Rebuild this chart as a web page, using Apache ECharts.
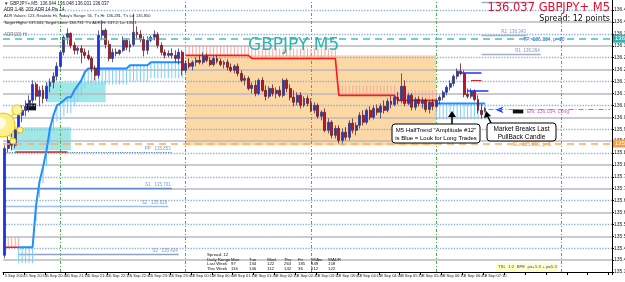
<!DOCTYPE html>
<html><head><meta charset="utf-8">
<script src="https://cdn.jsdelivr.net/npm/echarts@6/dist/echarts.min.js"></script>
<style>html,body{margin:0;padding:0;background:#fff}#c{width:625px;height:282px}</style>
</head><body><div id="c"></div>
<script>
// ---- data ----
const slots = Array.from({length:175},(_,i)=>'b'+i);
const tickLabels = ['5 Sep 2014','5 Sep 20:10','5 Sep 20:40','5 Sep 21:10','5 Sep 21:40','5 Sep 22:10','5 Sep 22:40','5 Sep 23:10','5 Sep 23:40','8 Sep 00:10','8 Sep 00:40','8 Sep 01:10','8 Sep 01:40','8 Sep 02:10','8 Sep 02:40','8 Sep 03:10','8 Sep 03:40','8 Sep 04:10','8 Sep 04:40','8 Sep 05:10','8 Sep 05:40','8 Sep 06:10','8 Sep 06:40','8 Sep 07:10'];
const openP = [135.420,135.869,135.903,135.882,135.953,136.008,136.029,136.046,136.071,136.138,136.088,136.113,136.079,136.130,136.147,136.172,136.214,136.273,136.336,136.352,136.302,136.281,136.289,136.273,136.260,136.247,136.205,136.176,136.344,136.365,136.306,136.247,136.273,136.268,136.281,136.323,136.294,136.306,136.357,136.348,136.327,136.281,136.323,136.336,136.348,136.302,136.273,136.260,136.268,136.260,136.247,136.273,136.197,136.226,136.214,136.231,136.239,136.231,136.256,136.239,136.222,136.247,136.235,136.222,136.231,136.210,136.197,136.214,136.184,136.155,136.163,136.121,136.134,136.100,136.155,136.113,136.088,136.121,136.100,136.113,136.092,136.155,136.121,136.084,136.063,136.092,136.050,136.079,136.058,136.029,136.050,136.004,136.021,135.945,135.979,135.924,135.953,135.903,135.937,135.916,135.975,135.945,135.966,136.008,135.979,136.029,136.000,136.037,136.021,136.046,136.029,136.067,136.054,136.084,136.071,136.130,136.058,136.092,136.042,136.075,136.058,136.071,136.033,136.063,136.046,136.071,136.084,136.105,136.126,136.142,136.172,136.193,136.184,136.096,136.088,136.109,136.075,136.029,136.025];
const highP = [135.882,135.924,135.945,135.966,136.029,136.050,136.071,136.092,136.155,136.147,136.130,136.134,136.147,136.163,136.189,136.231,136.281,136.344,136.373,136.357,136.315,136.298,136.302,136.289,136.281,136.256,136.218,136.365,136.407,136.373,136.323,136.289,136.289,136.285,136.340,136.331,136.323,136.436,136.382,136.365,136.340,136.340,136.344,136.365,136.357,136.315,136.285,136.281,136.289,136.281,136.289,136.281,136.239,136.247,136.239,136.252,136.260,136.273,136.268,136.252,136.256,136.260,136.247,136.239,136.243,136.226,136.222,136.226,136.197,136.176,136.172,136.147,136.155,136.163,136.168,136.134,136.130,136.138,136.126,136.130,136.163,136.163,136.138,136.113,136.105,136.105,136.088,136.092,136.079,136.063,136.058,136.029,136.037,135.995,135.987,135.966,135.966,135.953,135.958,135.987,135.995,135.979,136.021,136.029,136.037,136.046,136.050,136.054,136.058,136.071,136.079,136.088,136.092,136.105,136.184,136.155,136.100,136.100,136.084,136.088,136.084,136.079,136.071,136.075,136.079,136.092,136.113,136.134,136.155,136.180,136.205,136.226,136.197,136.121,136.121,136.117,136.092,136.054,136.042];
const lowP = [135.408,135.853,135.861,135.869,135.932,135.979,136.004,136.021,136.058,136.071,136.046,136.058,136.067,136.105,136.121,136.155,136.205,136.260,136.306,136.289,136.264,136.264,136.226,136.247,136.239,136.189,136.155,136.163,136.323,136.289,136.235,136.231,136.256,136.260,136.273,136.281,136.273,136.298,136.331,136.315,136.256,136.264,136.315,136.323,136.289,136.260,136.247,136.252,136.247,136.231,136.222,136.176,136.184,136.205,136.197,136.214,136.222,136.222,136.231,136.214,136.214,136.226,136.214,136.205,136.197,136.189,136.184,136.172,136.147,136.134,136.113,136.100,136.088,136.092,136.105,136.071,136.079,136.088,136.079,136.084,136.084,136.105,136.071,136.046,136.050,136.037,136.042,136.046,136.021,136.016,135.995,135.987,135.937,135.932,135.911,135.911,135.890,135.882,135.903,135.903,135.932,135.924,135.953,135.966,135.970,135.987,135.991,136.008,135.995,136.016,136.021,136.037,136.046,136.054,136.058,136.046,136.050,136.029,136.029,136.046,136.037,136.021,136.016,136.029,136.037,136.054,136.071,136.092,136.113,136.130,136.159,136.176,136.084,136.079,136.079,136.067,136.016,135.995,136.021];
const closeP = [135.869,135.903,135.882,135.953,136.008,136.029,136.046,136.071,136.138,136.088,136.113,136.079,136.130,136.147,136.172,136.214,136.273,136.336,136.352,136.302,136.281,136.289,136.273,136.260,136.247,136.205,136.176,136.344,136.365,136.306,136.247,136.273,136.268,136.281,136.323,136.294,136.306,136.357,136.348,136.327,136.281,136.323,136.336,136.348,136.302,136.273,136.260,136.268,136.260,136.247,136.273,136.197,136.226,136.214,136.231,136.239,136.231,136.256,136.239,136.222,136.247,136.235,136.222,136.231,136.210,136.197,136.214,136.184,136.155,136.163,136.121,136.134,136.100,136.155,136.113,136.088,136.121,136.100,136.113,136.092,136.155,136.121,136.084,136.063,136.092,136.050,136.079,136.058,136.029,136.050,136.004,136.021,135.945,135.979,135.924,135.953,135.903,135.937,135.916,135.975,135.945,135.966,136.008,135.979,136.029,136.000,136.037,136.021,136.046,136.029,136.067,136.054,136.084,136.071,136.130,136.058,136.092,136.042,136.075,136.058,136.071,136.033,136.063,136.046,136.071,136.084,136.105,136.126,136.142,136.172,136.193,136.184,136.096,136.088,136.109,136.075,136.029,136.012,136.037];
// HalfTrend (Amplitude 12) values: blue = up trend, red = down trend
const _ = null;
const htBlue = [_,_,_,_,135.454,135.454,135.454,135.454,135.454,135.630,135.730,135.790,135.861,135.953,136.008,136.050,136.058,136.071,136.084,136.084,136.113,136.134,136.155,136.189,136.205,136.205,136.205,136.205,136.205,136.205,136.205,136.205,136.205,136.205,136.205,136.205,136.218,136.218,136.218,136.218,136.218,136.218,136.231,136.231,136.231,136.231,136.231,136.231,136.231,136.231,136.231,136.231,
 _,_,_,_,_,_,_,_,_,_,_,_,_,_,_,_,_,_,_,_,_,_,_,_,_,_,_,_,_,_,_,_,_,_,_,_,_,_,_,_,_,_,_,_,_,_,_,_,_,_,_,_,_,_,_,_,_,_,_,_,_,_,_,_,_,_,_,_,_,_,_,_,
 136.058,136.058,136.058,136.058,136.058,136.058,136.058,136.058,136.058,136.058,136.058,136.058,136.058,136.058,136.058];
const htRed = [135.454,135.454,135.454,135.454,135.454,_,_,_,_,_,_,_,_,_,_,_,_,_,_,_,_,_,_,_,_,_,_,_,_,_,_,_,_,_,_,_,_,_,_,_,_,_,_,_,_,_,_,_,_,_,_,_,
 136.260,136.260,136.260,136.260,136.260,136.260,136.260,136.260,136.260,136.260,136.260,136.260,136.260,136.260,136.260,136.260,136.260,136.260,136.260,
 136.247,136.247,136.247,136.247,136.247,136.247,136.247,136.247,136.247,136.247,136.247,136.247,136.247,136.247,136.247,136.247,136.247,136.247,136.247,136.247,136.247,136.247,136.247,136.247,136.247,
 136.092,136.092,136.092,136.092,136.092,136.092,136.092,136.092,136.092,136.092,136.092,136.092,136.092,136.092,136.092,136.092,136.092,
 136.071,136.071,136.071,136.071,136.071,136.071,136.071,136.071,136.071,136.071,136.071,136.071,_,_,_,_,_,_,_,_,_,_,_,_,_,_];
const roundLevels = [135.4,135.5,135.6,135.7,135.8,135.9,136.0,136.1,136.2,136.3,136.4];
const halfLevels = [135.45,135.55,135.65,135.75,135.85,135.95,136.05,136.15,136.25,136.35,136.45];
const separators = [16,52,88,124,160];
const tpPrice = 136.334, slPrice = 135.890, entryPrice = 136.034, lastPrice = 136.037;
const tableHead = ['Daily Range','Mon','Tue','Wed','Thu','Fri','W/Avr','WADR'];
const lastWeek = ['Last Week','97','134','122','263','185','849','158'];
const thisWeek = ['This Week','116','146','112','142','36','612','122'];

// ---- chart ----
const chart = echarts.init(document.getElementById('c'), null, {renderer:'canvas'});
const candles = openP.map((o,i)=>[o, closeP[i], lowP[i], highP[i]]);
const hatch = [];
htBlue.forEach((v,i)=>{ if(v!=null) hatch.push([i,v,0]); });
htRed.forEach((v,i)=>{ if(v!=null) hatch.push([i,v,1]); });

const lvlLines = [];
roundLevels.forEach(v=>lvlLines.push({yAxis:v, lineStyle:{color:'#b9b9c3', width:1.6, type:'solid'}}));
halfLevels.forEach(v=>lvlLines.push({yAxis:v, lineStyle:{color:'#8fb2dd', width:1.4, type:'dotted'}}));
separators.forEach(v=>lvlLines.push({xAxis:v, lineStyle:{color:'#49b04f', width:1, type:[3,2,1,2]}}));
const segs = (a,b,v,color,w,type,label)=>[{coord:[a,v], lineStyle:{color,width:w,type}, label:label?{show:true,position:'insideEndTop',formatter:label,fontSize:4.5,color:'#7f98c4',distance:1}:{show:false}},{coord:[b,v]}];
lvlLines.push(segs(0,48,135.701,'#5d8fcf',1.4,'solid','S1   135.701'));
lvlLines.push(segs(0,47,135.626,'#9dc0ea',1.4,'solid','S2   135.626'));
lvlLines.push(segs(4,50,135.424,'#8ea4c4',1.4,'solid','S3   135.424'));
lvlLines.push(segs(0,48,135.853,'#5f86c0',1.2,'dotted','PP   135.853'));
lvlLines.push(segs(137,152,136.483,'#a8b0c0',1.4,'solid',null));
lvlLines.push(segs(137,150,136.343,'#a8b0c0',1.4,'solid','R2  136.343'));
lvlLines.push(segs(137,154,136.264,'#a8b0c0',1.4,'solid','R1  136.264'));
lvlLines.push(segs(3,18,135.857,'#d02828',1.6,'solid',null));

const option = {
  animation:false,
  backgroundColor:'#ffffff',
  grid:{left:3,right:13,top:0,bottom:10,containLabel:false,outerBoundsMode:'none'},
  xAxis:{type:'category', data:slots, boundaryGap:true,
    axisLine:{lineStyle:{color:'#000',width:1}},
    axisTick:{show:true, interval:5, length:3, lineStyle:{color:'#000'}},
    axisLabel:{interval:5, fontSize:4, color:'#222', align:'left', margin:2, fontFamily:'Liberation Sans',
      formatter:(v,i)=> tickLabels[i/6] !== undefined ? tickLabels[i/6] : ''},
    splitLine:{show:false}},
  yAxis:{type:'value', position:'right', min:135.35, max:136.4925, interval:0.05, scale:true,
    axisLine:{show:true, lineStyle:{color:'#000'}},
    axisTick:{show:true, length:2, lineStyle:{color:'#000'}},
    axisLabel:{fontSize:5, margin:2, color:'#222', showMaxLabel:false, fontFamily:'Liberation Sans', formatter:v=>v.toFixed(3)},
    splitLine:{show:false}},
  series:[
    {name:'levels', type:'line', data:[], z:1, silent:true,
     markArea:{silent:true, z:1, data:[
       [{coord:[52,136.260], itemStyle:{color:'#fcd8a5'}},{coord:[124,135.882]}],
       [{coord:[12,136.147], itemStyle:{color:'#a0e7e7'}},{coord:[29,136.063]}],
       [{coord:[2,135.958], itemStyle:{color:'#a0e7e7'}},{coord:[19,135.861]}],
       [{coord:[6,136.058], itemStyle:{color:'#111'}},{coord:[9,136.029]}],
       [{coord:[146,136.033], itemStyle:{color:'#111'}},{coord:[149,136.016]}]
     ]},
     markLine:{silent:true, z:1.5, symbol:['none','none'], label:{show:false}, data:lvlLines}
    },
    {name:'marks', type:'line', data:[], z:6, silent:true,
     markLine:{silent:true, z:6, symbol:['none','none'], data:[
       {yAxis:tpPrice, lineStyle:{color:'#43c2c2',width:1.5,type:[7,5]}, label:{show:true,position:'end',formatter:'136.334',fontSize:6,color:'#fff',backgroundColor:'#2fb3b3',padding:[1,2],distance:1}},
       {yAxis:slPrice, lineStyle:{color:'#ffab58',width:1.5,type:[7,5]}, label:{show:true,position:'end',formatter:'135.890',fontSize:6,color:'#fff',backgroundColor:'#ff9a3a',padding:[1,2],distance:1}},
       {yAxis:lastPrice, lineStyle:{opacity:0}, label:{show:true,position:'end',formatter:'136.037',fontSize:6,color:'#fff',backgroundColor:'#000',padding:[1,2],distance:1}},
       [{coord:[139,entryPrice], lineStyle:{color:'#6f8fd6',width:1,type:[5,2,1,2]}, label:{show:false}},{coord:[174,entryPrice]}],
       [{coord:[131,136.189], lineStyle:{color:'#2030ff',width:1.5,type:'solid'}, label:{show:false}},{coord:[137,136.189]}],
       [{coord:[133,136.113], lineStyle:{color:'#2030ff',width:1.5,type:'solid'}, label:{show:false}},{coord:[139,136.113]}],
       [{coord:[134,136.155], lineStyle:{color:'#e02020',width:1,type:'solid'}, label:{show:false}},{coord:[137,136.155]}]
     ]},
     markPoint:{silent:true, data:[
       {coord:[149,136.326], symbolSize:0, label:{show:true,position:'right',formatter:'TP: 136.334, p=10',fontSize:5,color:'#2f4cff',distance:0}},
       {coord:[150,136.023], symbolSize:0, label:{show:true,position:'right',formatter:'Ent: 136.034, Long',fontSize:5,color:'#c060d0',distance:0}},
       {coord:[146,135.884], symbolSize:0, label:{show:true,position:'right',formatter:'SL: 135.890, p=5',fontSize:5,color:'#ff8a1a',distance:0}},
       {coord:[141,136.031], symbol:'arrow', symbolRotate:90, symbolSize:[5,8], itemStyle:{color:'#2040ff'}, label:{show:false}}
     ]}
    },
    {name:'hatch', type:'custom', z:3, silent:true, data:hatch, encode:{x:0,y:1},
     renderItem:(params,api)=>{
       const p = api.coord([api.value(0), api.value(1)]);
       const blue = api.value(2)===0;
       const len = blue ? 16 : -10;
       return {type:'line', shape:{x1:p[0],y1:p[1],x2:p[0],y2:p[1]+len},
               style:{stroke: blue?'#7fcdf8':'#f5a99f', lineWidth:1}};
     }},
    {name:'HalfTrend up', type:'line', data:htBlue, z:4, symbol:'none', connectNulls:false,
     lineStyle:{color:'#1e90ff', width:2}},
    {name:'HalfTrend down', type:'line', data:htRed, z:4, symbol:'none', connectNulls:false,
     lineStyle:{color:'#ff1a1a', width:1.6}},
    {name:'GBPJPY+', type:'candlestick', data:candles, z:5, barWidth:2.4,
     itemStyle:{color:'#1f35dc', color0:'#c4102a', borderColor:'#3a3a70', borderColor0:'#6a1a22', borderWidth:0.8}}
  ],
  graphic:[
    {type:'text', x:4, y:1, style:{text:'▼ GBPJPY+,M5  136.044 136.048 136.031 136.037', fontSize:4.5, fill:'#222', fontFamily:'Liberation Sans'}},
    {type:'text', x:4, y:7.5, style:{text:'ADR 1.48  203 ADR 14 Pts 14', fontSize:4.5, fill:'#222', fontFamily:'Liberation Sans'}},
    {type:'text', x:4, y:14, style:{text:"ADR Values: 123, Realistic Hi, Today's Range: 56, T's Hi: 136.281, T's Lo: 135.850", fontSize:4, fill:'#222', fontFamily:'Liberation Sans'}},
    {type:'text', x:4, y:20.5, style:{text:"Target Highs: 137.441, Target Lows: 134.731  T's ADR Hi: 137.2, Lo: 135.1", fontSize:4, fill:'#222', fontFamily:'Liberation Sans'}},
    {type:'text', x:4, y:32, style:{text:'ADR(20) Hi', fontSize:4.5, fill:'#777', fontFamily:'Liberation Sans'}},
    {type:'text', x:248, y:37, style:{text:'GBPJPY M5', fontSize:17, fill:'#2db4b0', fontFamily:'DejaVu Sans'}},
    {type:'text', x:610, y:2, style:{text:'136.037 GBPJPY+ M5', fontSize:11.5, fill:'#e0102e', fontFamily:'DejaVu Sans', align:'right'}},
    {type:'text', x:610, y:15, style:{text:'Spread: 12 points', fontSize:8, fill:'#111', fontFamily:'DejaVu Sans', align:'right'}},
    // sun icon
    {type:'line', shape:{x1:4,y1:125,x2:17,y2:110}, style:{stroke:'#f5cf2a',lineWidth:1.5}},
    {type:'line', shape:{x1:4,y1:125,x2:20,y2:130}, style:{stroke:'#f5cf2a',lineWidth:1.5}},
    {type:'line', shape:{x1:4,y1:125,x2:13,y2:141}, style:{stroke:'#f5cf2a',lineWidth:1.5}},
    {type:'circle', shape:{cx:3,cy:125,r:12}, style:{fill:'#ffef8a', stroke:'#f2c200', lineWidth:1}},
    {type:'circle', shape:{cx:0,cy:123,r:6}, style:{fill:'#fffbe0'}},
    {type:'circle', shape:{cx:17,cy:110,r:5}, style:{fill:'#fff3a0', stroke:'#f2c200', lineWidth:1}},
    {type:'circle', shape:{cx:20,cy:130,r:3}, style:{fill:'#fff3a0', stroke:'#f2c200', lineWidth:1}},
    {type:'circle', shape:{cx:13,cy:141,r:3}, style:{fill:'#fff3a0', stroke:'#f2c200', lineWidth:1}},
    // annotations
    {type:'line', shape:{x1:452,y1:124,x2:452,y2:116}, style:{stroke:'#000',lineWidth:1.5}},
    {type:'polygon', shape:{points:[[448,117],[456,117],[452,111]]}, style:{fill:'#000'}},
    {type:'rect', shape:{x:392,y:124,width:88,height:19,r:3}, style:{fill:'#fff',stroke:'#000',lineWidth:1}},
    {type:'text', x:436, y:126, z:110, style:{text:'M5 HalfTrend "Amplitude #12"\nis Blue = Look for Long Trades', fontSize:6, lineHeight:8, fill:'#000', fontFamily:'Liberation Sans', align:'center'}},
    {type:'line', shape:{x1:491,y1:123,x2:488,y2:117}, style:{stroke:'#000',lineWidth:1.5}},
    {type:'polygon', shape:{points:[[484,118],[491,116],[486,111]]}, style:{fill:'#000'}},
    {type:'rect', shape:{x:487,y:123,width:69,height:18,r:3}, style:{fill:'#fff',stroke:'#000',lineWidth:1}},
    {type:'text', x:521.5, y:125, z:110, style:{text:'Market Breaks Last\nPullBack Candle', fontSize:6.5, lineHeight:8, fill:'#000', fontFamily:'Liberation Sans', align:'center'}},
    // bottom label
    {type:'rect', shape:{x:496,y:263,width:62,height:8}, style:{fill:'#ffffc4'}},
    {type:'text', x:498, y:264.5, style:{text:'TSL  1:2  BPE  p=+5.3 + p=5.3', fontSize:4.3, fill:'#2b3fd0', fontFamily:'Liberation Sans'}},
    {type:'text', x:207, y:252.5, style:{text:'Spread: 12', fontSize:4.3, fill:'#111', fontFamily:'Liberation Sans'}}
  ]
};
const colX = [207,231,249,267,284,298,311,328];
[tableHead,lastWeek,thisWeek].forEach((row,r)=>{
  row.forEach((cell,c)=>{
    option.graphic.push({type:'text', x:colX[c], y:257.5+r*4.8, style:{text:cell, fontSize:4.3, fill:'#111', fontFamily:'Liberation Sans'}});
  });
});
option.graphic.forEach(g=>{ if(g.z===undefined) g.z = 100; g.silent = true; });
chart.setOption(option);
</script></body></html>
